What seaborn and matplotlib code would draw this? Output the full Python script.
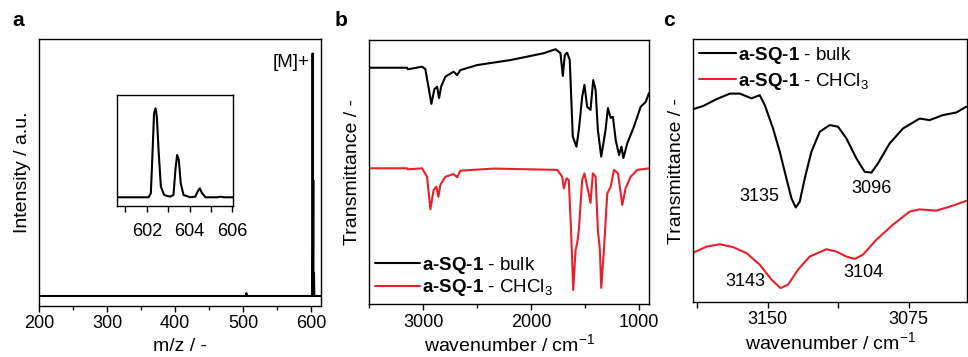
import numpy as np
import pandas as pd
import matplotlib
matplotlib.use("Agg")
import matplotlib.pyplot as plt
from matplotlib.ticker import MultipleLocator, FixedLocator
import seaborn as sns

# ---- panel a: mass spectrum ----
ms_mz = [200, 504, 505, 506, 602.0, 602.35, 602.7, 603.35, 603.7, 604.45, 604.8, 614.5]
ms_int = [0, 0, 1.2, 0, 0, 100, 0, 47.7, 0, 9.5, 0, 0]

# inset: isotope pattern
iso_mz = [600.62, 602.08, 602.19, 602.28, 602.34, 602.41, 602.47, 602.56, 602.66, 602.81,
          603.09, 603.25, 603.34, 603.42, 603.50, 603.59, 603.72, 604.03, 604.27, 604.38,
          604.48, 604.59, 604.75, 605.30, 605.45, 605.61, 606.05]
iso_int = [0, 0, 4.5, 56.9, 94.4, 100, 90.6, 49.4, 11.9, 2.6,
           0.7, 2.6, 30.7, 47.5, 41.9, 15.7, 2.6, 0, 0.7, 6.3,
           10.1, 4.5, 0, 0, 0.7, 0, 0]

# ---- panel b: full IR spectra ----
ir_bulk_wn = [3497, 3148, 3140, 3009, 2979, 2948, 2923, 2895, 2870, 2852, 2833, 2794, 2717,
              2685, 2655, 2500, 2192, 1883, 1775, 1729, 1707, 1689, 1667, 1643, 1615, 1581,
              1559, 1528, 1507, 1482, 1451, 1426, 1404, 1383, 1352, 1312, 1290, 1265, 1244,
              1218, 1187, 1165, 1147, 1110, 1049, 987, 940, 910]
ir_bulk_t = [89.5, 89.5, 88.9, 89.9, 89.0, 81.8, 75.8, 81.4, 82.3, 78.0, 82.3, 86.1, 88.0,
             86.7, 88.6, 90.5, 92.4, 95.0, 96.5, 95.0, 86.4, 94.3, 95.2, 92.4, 63.4, 59.6,
             65.9, 78.5, 83.0, 74.7, 73.5, 84.8, 81.1, 65.9, 55.8, 65.9, 74.2, 70.5, 70.9,
             62.1, 56.4, 59.6, 55.3, 61.0, 67.2, 74.7, 76.6, 79.9]

ir_sol_wn = [3497, 3148, 3140, 3009, 2963, 2932, 2902, 2877, 2858, 2840, 2794, 2717, 2685,
             2655, 2346, 1759, 1713, 1698, 1673, 1652, 1630, 1611, 1589, 1574, 1559, 1528,
             1507, 1482, 1467, 1451, 1429, 1404, 1383, 1364, 1352, 1327, 1296, 1265, 1234,
             1197, 1157, 1127, 1080, 1018, 910]
ir_sol_t = [51.4, 51.4, 51.0, 51.4, 48.2, 35.9, 43.2, 44.4, 40.6, 45.1, 48.2, 49.2, 48.0,
            50.5, 51.3, 50.8, 48.2, 43.8, 47.6, 47.0, 26.9, 5.3, 20.5, 23.1, 28.0, 47.0,
            49.5, 44.4, 41.9, 38.3, 49.5, 48.2, 28.0, 20.5, 6.1, 20.5, 41.9, 44.4, 50.8,
            49.5, 37.5, 43.8, 48.2, 50.8, 51.4]

# ---- panel c: C-H stretch region ----
ch_bulk_wn = [3189.7, 3184.4, 3177.3, 3170.2, 3164.9, 3158.7, 3154.3, 3151.6, 3147.2, 3143.6,
              3140.1, 3137.4, 3135.1, 3133.0, 3130.3, 3126.8, 3122.3, 3117.0, 3112.6, 3108.1,
              3102.8, 3098.4, 3094.8, 3091.3, 3085.1, 3078.0, 3069.1, 3063.8, 3056.8, 3049.6,
              3044.3]
ch_bulk_t = [73.4, 74.6, 77.2, 79.3, 79.3, 77.5, 78.7, 74.9, 66.0, 57.1,
             47.0, 39.4, 35.9, 38.1, 47.0, 57.1, 64.8, 67.3, 66.7, 62.2,
             54.6, 49.5, 49.2, 52.7, 60.3, 66.0, 69.8, 69.2, 71.1, 72.1,
             74.3]
ch_sol_wn = [3189.7, 3182.6, 3175.5, 3168.5, 3161.3, 3154.3, 3148.0, 3143.2, 3139.2, 3133.9,
             3127.7, 3118.8, 3113.5, 3108.1, 3103.7, 3099.3, 3092.2, 3083.4, 3074.5, 3069.1,
             3060.3, 3053.2, 3044.3]
ch_sol_t = [18.7, 21.0, 21.9, 20.8, 18.5, 14.1, 8.4, 5.2, 6.5, 12.2,
            17.2, 20.0, 19.1, 17.2, 16.3, 17.9, 23.6, 29.3, 34.3, 35.2,
            34.7, 36.2, 38.4]

peak_labels = ["3135", "3096", "3143", "3104"]
peak_pos = [(3154.3, 40.0), (3094.8, 43.2), (3162.2, 7.7), (3099.3, 11.1)]

lbl_bulk = "$\\mathbf{a\u2010SQ\u20101}$ - bulk"
lbl_sol = "$\\mathbf{a\u2010SQ\u20101}$ - CHCl$_3$"

sns.set_theme(style="ticks")
plt.rcParams["font.family"] = ["Liberation Sans", "DejaVu Sans"]
plt.rcParams["mathtext.fontset"] = "custom"
plt.rcParams["mathtext.rm"] = "Liberation Sans"
plt.rcParams["mathtext.it"] = "Liberation Sans:italic"
plt.rcParams["mathtext.bf"] = "Liberation Sans:bold"
plt.rcParams["text.color"] = "black"
plt.rcParams["axes.labelcolor"] = "black"
plt.rcParams["axes.edgecolor"] = "black"
plt.rcParams["axes.linewidth"] = 1.0
plt.rcParams["xtick.color"] = "black"
plt.rcParams["xtick.labelcolor"] = "black"
plt.rcParams["xtick.direction"] = "out"
plt.rcParams["xtick.major.size"] = 4
plt.rcParams["xtick.minor.size"] = 3
plt.rcParams["xtick.major.width"] = 1.0
plt.rcParams["xtick.minor.width"] = 1.0

W, H = 968, 357
fig = plt.figure(figsize=(W / 100, H / 100), dpi=100)

def box(l, t, r, b):
    return [l / W, 1 - b / H, (r - l) / W, (b - t) / H]

ax_a = fig.add_axes(box(39, 39.3, 321, 305.7))
ax_in = fig.add_axes(box(117.3, 95, 233.3, 206))
ax_b = fig.add_axes(box(369, 40, 649, 304))
ax_c = fig.add_axes(box(693.3, 39.3, 967.5, 301.7))

lw = 1.5
red = "#e8202a"
tick_fs = 13
lab_fs = 14

# a
sns.lineplot(x=ms_mz, y=ms_int, sort=False, estimator=None, color="black", lw=lw, ax=ax_a)
ax_a.set_xlim(200, 614.7)
ax_a.set_ylim(-4, 105.8)
ax_a.set_yticks([])
ax_a.xaxis.set_major_locator(MultipleLocator(100))
ax_a.xaxis.set_minor_locator(MultipleLocator(50))
ax_a.tick_params(axis="x", labelsize=tick_fs, pad=3)
ax_a.set_xlabel("m/z / -", fontsize=lab_fs, labelpad=4)
ax_a.set_ylabel("Intensity / a.u.", fontsize=lab_fs, labelpad=6)
ax_a.text(598.5, 96.3, "[M]+", fontsize=13.5, ha="right", va="center")

sns.lineplot(x=iso_mz, y=iso_int, sort=False, estimator=None, color="black", lw=lw, ax=ax_in)
ax_in.set_xlim(600.62, 606.05)
ax_in.set_ylim(-9.8, 115)
ax_in.set_yticks([])
ax_in.xaxis.set_major_locator(FixedLocator([602, 604, 606]))
ax_in.xaxis.set_minor_locator(FixedLocator([601, 603, 605]))
ax_in.tick_params(axis="x", which="both", labelsize=tick_fs, pad=8, length=4)

# b
sns.lineplot(x=ir_bulk_wn, y=ir_bulk_t, sort=False, estimator=None, color="black", lw=lw,
             ax=ax_b, label=lbl_bulk)
sns.lineplot(x=ir_sol_wn, y=ir_sol_t, sort=False, estimator=None, color=red, lw=lw,
             ax=ax_b, label=lbl_sol)
ax_b.set_xlim(3500, 910)
ax_b.set_ylim(0, 100)
ax_b.set_yticks([])
ax_b.xaxis.set_major_locator(MultipleLocator(1000))
ax_b.xaxis.set_minor_locator(MultipleLocator(500))
ax_b.tick_params(axis="x", labelsize=tick_fs, pad=3)
ax_b.set_xlabel("wavenumber / cm$^{-1}$", fontsize=lab_fs, labelpad=2)
ax_b.set_ylabel("Transmittance / -", fontsize=lab_fs, labelpad=6)
ax_b.legend(loc="lower left", frameon=False, fontsize=13.5, handlelength=2.4,
            handletextpad=0.1, borderaxespad=0.1, labelspacing=0.1, borderpad=0.2)

# c
sns.lineplot(x=ch_bulk_wn, y=ch_bulk_t, sort=False, estimator=None, color="black", lw=lw,
             ax=ax_c, label=lbl_bulk)
sns.lineplot(x=ch_sol_wn, y=ch_sol_t, sort=False, estimator=None, color=red, lw=lw,
             ax=ax_c, label=lbl_sol)
ax_c.set_xlim(3189.7, 3043.6)
ax_c.set_ylim(0, 100)
ax_c.set_yticks([])
ax_c.xaxis.set_major_locator(FixedLocator([3150, 3075]))
ax_c.xaxis.set_minor_locator(FixedLocator([3187.5, 3112.5]))
ax_c.tick_params(axis="x", which="both", labelsize=tick_fs, pad=3, length=4)
ax_c.set_xlabel("wavenumber / cm$^{-1}$", fontsize=lab_fs, labelpad=2)
ax_c.set_ylabel("Transmittance / -", fontsize=lab_fs, labelpad=6)
ax_c.legend(loc="upper left", frameon=False, fontsize=13.5, handlelength=2.0,
            handletextpad=0.1, borderaxespad=0.1, labelspacing=0.25, borderpad=0.2)
for txt, (x, y) in zip(peak_labels, peak_pos):
    ax_c.text(x, y, txt, fontsize=13, ha="center", va="center")

for letter, x in zip(["a", "b", "c"], [12, 335, 663]):
    fig.text(x / W, 1 - 20 / H, letter, fontsize=15, fontweight="bold", ha="left", va="center")

fig.savefig("out.png", dpi=100)
